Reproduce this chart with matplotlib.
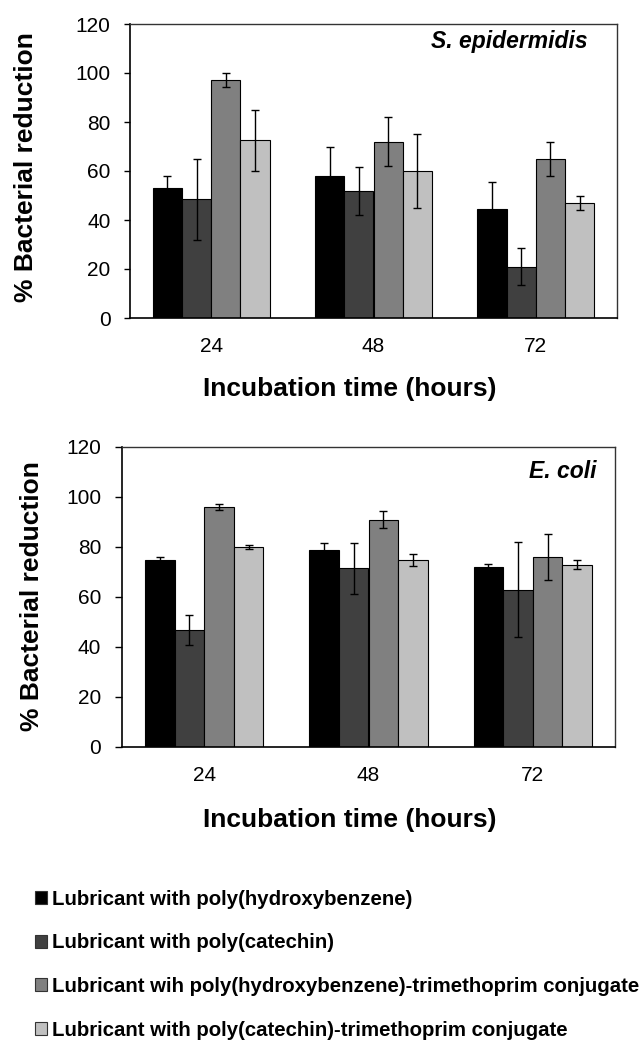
import numpy as np
import matplotlib
matplotlib.use("Agg")
import matplotlib.pyplot as plt
from matplotlib.patches import Patch

plt.rcParams["font.family"] = ["Liberation Sans", "DejaVu Sans"]

hours = ["24", "48", "72"]
series = [
    "Lubricant with poly(hydroxybenzene)",
    "Lubricant with poly(catechin)",
    "Lubricant wih poly(hydroxybenzene)-trimethoprim conjugate",
    "Lubricant with poly(catechin)-trimethoprim conjugate",
]
colors = ["#000000", "#404040", "#808080", "#c0c0c0"]

# S. epidermidis, rows = series, cols = 24/48/72 h
epi_mean = [[53, 58, 44.5], [48.5, 52, 21], [97, 72, 65], [72.5, 60, 47]]
epi_err = [[5, 12, 11], [16.5, 9.8, 7.5], [2.8, 10, 7], [12.4, 15, 3]]

# E. coli
coli_mean = [[75, 79, 72], [47, 71.5, 63], [96, 91, 76], [80, 75, 73]]
coli_err = [[0.9, 2.5, 1.3], [6, 10.3, 19], [1.2, 3.3, 9.1], [0.8, 2.4, 1.8]]

W, H = 644, 1056
fig = plt.figure(figsize=(W / 100, H / 100), dpi=100)


def px_axes(l, t, r, b):
    return fig.add_axes([l / W, 1 - b / H, (r - l) / W, (b - t) / H])


def draw(ax, means, errs, name, name_xy, ticklen):
    x = np.arange(len(hours))
    bw = 0.18
    for k in range(len(series)):
        ax.bar(x + (k - 1.5) * bw, means[k], bw, color=colors[k],
               edgecolor="black", linewidth=0.8, label=series[k], zorder=2)
        ax.errorbar(x + (k - 1.5) * bw, means[k], yerr=errs[k], fmt="none",
                    ecolor="black", elinewidth=1, capsize=3, capthick=1, zorder=3)
    ax.set_xlim(-0.5, 2.5)
    ax.set_ylim(0, 120)
    ax.set_yticks(range(0, 121, 20))
    ax.set_xticks(x)
    ax.set_xticklabels(hours)
    ax.tick_params(axis="y", length=ticklen, width=1, pad=10, labelsize=15, direction="out")
    ax.tick_params(axis="x", length=0, pad=14, labelsize=15)
    for s in ["left", "bottom"]:
        ax.spines[s].set_linewidth(1.2)
        ax.spines[s].set_color("black")
    for s in ["top", "right"]:
        ax.spines[s].set_linewidth(1)
        ax.spines[s].set_color("#333333")
    ax.text(name_xy[0], name_xy[1], name, transform=ax.transAxes, ha="right",
            va="center", fontsize=16.5, fontweight="bold", fontstyle="italic")


ax1 = px_axes(130, 24, 617, 318)
draw(ax1, epi_mean, epi_err, "S. epidermidis", (0.940, 0.939), 4)
ax2 = px_axes(122, 447, 615, 747)
draw(ax2, coli_mean, coli_err, "E. coli", (0.963, 0.92), 5)

for y in [389, 820]:
    fig.text(350 / W, 1 - y / H, "Incubation time (hours)", ha="center",
             va="center", fontsize=19, fontweight="bold")
for xx, y in [(26, 167), (32, 596)]:
    fig.text(xx / W, 1 - y / H, "% Bacterial reduction", ha="center",
             va="center", rotation=90, fontsize=19, fontweight="bold")

handles = [Patch(facecolor=c, edgecolor="#333333", linewidth=0.8) for c in colors]
fig.legend(handles, series, loc="upper left", bbox_to_anchor=(35 / W, 1 - 890 / H),
           frameon=False, prop={"weight": "bold", "size": 14.7},
           handlelength=0.59, handleheight=0.59, handletextpad=0.25,
           labelspacing=1.2, borderpad=0, borderaxespad=0)

fig.savefig("out.png", dpi=100)
